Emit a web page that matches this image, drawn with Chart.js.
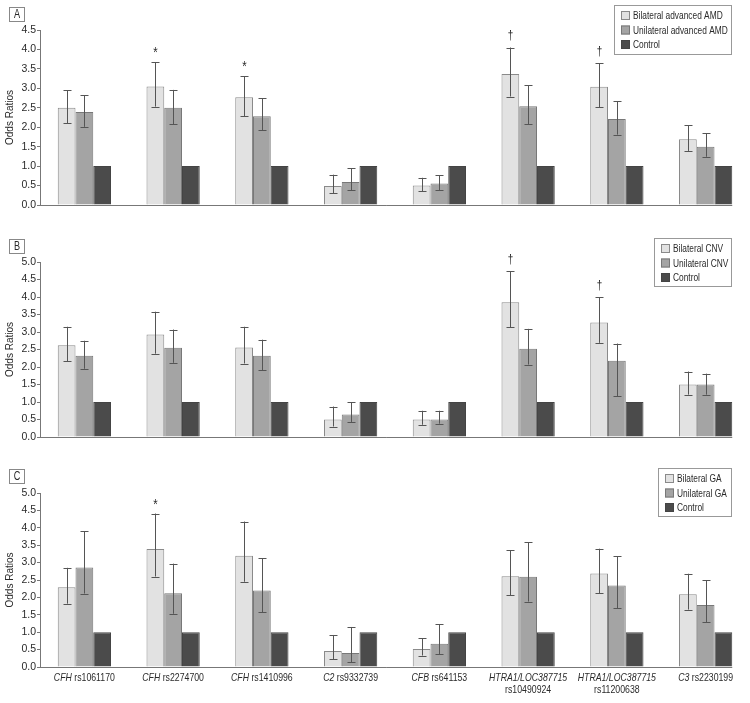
<!DOCTYPE html>
<html>
<head>
<meta charset="utf-8">
<script src="https://cdn.jsdelivr.net/npm/chart.js@4/dist/chart.umd.min.js"></script>
<style>
  body { margin: 0; background: #fff; }
  .panel { position: absolute; left: 0; width: 750px; }
</style>
</head>
<body>
<div class="panel" style="top:0;height:225px"><canvas id="chartA" width="750" height="225"></canvas></div>
<div class="panel" style="top:225px;height:225px"><canvas id="chartB" width="750" height="225"></canvas></div>
<div class="panel" style="top:450px;height:253px"><canvas id="chartC" width="750" height="253"></canvas></div>
<script>
// gene part (italic) and snp part of each category
const genes = ["CFH", "CFH", "CFH", "C2", "CFB", "HTRA1/LOC387715", "HTRA1/LOC387715", "C3"];
const snps = ["rs1061170", "rs2274700", "rs1410996", "rs9332739", "rs641153", "rs10490924", "rs11200638", "rs2230199"];
const control = [1, 1, 1, 1, 1, 1, 1, 1];

// panel A - advanced AMD
const bilatA = [2.5, 3.05, 2.77, 0.49, 0.5, 3.37, 3.04, 1.69];
const bilatA_lo = [2.1, 2.53, 2.28, 0.3, 0.35, 2.79, 2.52, 1.39];
const bilatA_hi = [2.95, 3.67, 3.31, 0.78, 0.7, 4.05, 3.65, 2.05];
const unilatA = [2.39, 2.5, 2.28, 0.59, 0.55, 2.54, 2.21, 1.5];
const unilatA_lo = [2.01, 2.08, 1.92, 0.38, 0.38, 2.08, 1.81, 1.24];
const unilatA_hi = [2.82, 2.96, 2.74, 0.94, 0.76, 3.08, 2.67, 1.84];
const marksA = ["", "*", "*", "", "", "\u2020", "\u2020", ""];

// panel B - CNV
const bilatB = [2.62, 2.93, 2.56, 0.5, 0.5, 3.85, 3.27, 1.5];
const bilatB_lo = [2.16, 2.38, 2.1, 0.3, 0.35, 3.14, 2.69, 1.21];
const bilatB_hi = [3.15, 3.58, 3.15, 0.87, 0.75, 4.73, 3.99, 1.87];
const unilatB = [2.32, 2.55, 2.32, 0.64, 0.5, 2.52, 2.18, 1.5];
const unilatB_lo = [1.95, 2.12, 1.91, 0.43, 0.38, 2.07, 1.17, 1.21];
const unilatB_hi = [2.75, 3.07, 2.78, 1.0, 0.75, 3.09, 2.67, 1.81];
const marksB = ["", "", "", "", "", "\u2020", "\u2020", ""];

// panel C - GA
const bilatC = [2.29, 3.39, 3.2, 0.46, 0.52, 2.61, 2.69, 2.09];
const bilatC_lo = [1.82, 2.6, 2.45, 0.23, 0.33, 2.06, 2.12, 1.65];
const bilatC_hi = [2.85, 4.41, 4.18, 0.92, 0.82, 3.35, 3.4, 2.68];
const unilatC = [2.86, 2.12, 2.2, 0.4, 0.67, 2.59, 2.34, 1.78];
const unilatC_lo = [2.11, 1.53, 1.57, 0.14, 0.37, 1.88, 1.69, 1.28];
const unilatC_hi = [3.9, 2.97, 3.12, 1.15, 1.23, 3.58, 3.18, 2.49];
const marksC = ["", "*", "", "", "", "", "", ""];

const FONT = "'Liberation Sans', Arial, sans-serif";
const INK = "#2a2a2a";
const SQUEEZE = 0.76; // the original uses a condensed face

// draws text squeezed horizontally around its anchor
const narrowText = (ctx, txt, x, y, font, align) => {
  ctx.save();
  ctx.font = font;
  ctx.textAlign = align || "left";
  ctx.textBaseline = "middle";
  ctx.translate(x, y);
  ctx.scale(SQUEEZE, 1);
  ctx.fillText(txt, 0, 0);
  ctx.restore();
};

const extras = {
  id: "extras",
  afterDatasetsDraw(chart, args, opts) {
    const ctx = chart.ctx;
    const y = chart.scales.y;
    const area = chart.chartArea;
    ctx.save();
    // error bars
    chart.data.datasets.forEach((ds, i) => {
      if (!ds.lo) return;
      chart.getDatasetMeta(i).data.forEach((bar, j) => {
        const yh = y.getPixelForValue(ds.hi[j]);
        const yl = y.getPixelForValue(ds.lo[j]);
        const x = Math.round(bar.x) + 0.5;
        ctx.strokeStyle = "#555";
        ctx.lineWidth = 1;
        ctx.beginPath();
        ctx.moveTo(x, yh); ctx.lineTo(x, yl);
        ctx.moveTo(x - 4, Math.round(yh) + 0.5); ctx.lineTo(x + 4, Math.round(yh) + 0.5);
        ctx.moveTo(x - 4, Math.round(yl) + 0.5); ctx.lineTo(x + 4, Math.round(yl) + 0.5);
        ctx.stroke();
        if (ds.marks && ds.marks[j]) {
          ctx.fillStyle = INK;
          const big = ds.marks[j] === "*" ? "15px " : "13px ";
          narrowText(ctx, ds.marks[j], x, yh - (ds.marks[j] === "*" ? 9 : 12), big + FONT, "center");
        }
      });
    });
    // baseline up to right edge of last bar
    const meta = chart.getDatasetMeta(chart.data.datasets.length - 1);
    const last = meta.data[meta.data.length - 1];
    ctx.strokeStyle = "#777";
    ctx.beginPath();
    ctx.moveTo(area.left, Math.round(area.bottom) + 0.5);
    ctx.lineTo(last.x + last.width / 2, Math.round(area.bottom) + 0.5);
    ctx.stroke();

    // panel letter
    ctx.strokeStyle = "#888";
    ctx.strokeRect(opts.box[0] + 0.5, opts.box[1] + 0.5, 15, 14);
    ctx.fillStyle = INK;
    narrowText(ctx, opts.letter, opts.box[0] + 8, opts.box[1] + 8, "12px " + FONT, "center");

    // legend
    const lg = opts.legend;
    ctx.strokeStyle = "#999";
    ctx.strokeRect(lg.x + 0.5, lg.y + 0.5, lg.w, lg.h);
    chart.data.datasets.forEach((ds, i) => {
      const cy = lg.y + 10 + i * 14.5;
      ctx.fillStyle = ds.backgroundColor;
      ctx.fillRect(lg.x + 7, cy - 4, 9, 9);
      ctx.strokeStyle = ds.borderColor;
      ctx.strokeRect(lg.x + 7.5, cy - 3.5, 8, 8);
      ctx.fillStyle = INK;
      narrowText(ctx, ds.label, lg.x + 19, cy + 1, "11px " + FONT, "left");
    });

    // category labels (only on bottom panel)
    if (opts.xlabels) {
      const xs = chart.scales.x;
      const fi = "italic 11.5px " + FONT;
      const fn = "11.5px " + FONT;
      ctx.fillStyle = INK;
      genes.forEach((g, k) => {
        const cx = xs.getPixelForValue(k);
        if (g.length > 5) {
          narrowText(ctx, g, cx, area.bottom + 11, fi, "center");
          narrowText(ctx, snps[k], cx, area.bottom + 23, fn, "center");
        } else {
          ctx.font = fi;
          const gw = ctx.measureText(g + " ").width * SQUEEZE;
          ctx.font = fn;
          const sw = ctx.measureText(snps[k]).width * SQUEEZE;
          const x0 = cx - (gw + sw) / 2;
          narrowText(ctx, g + " ", x0, area.bottom + 11, fi, "left");
          narrowText(ctx, snps[k], x0 + gw, area.bottom + 11, fn, "left");
        }
      });
    }
    ctx.restore();
  },
};

const makePanel = (id, labels, bil, bilLo, bilHi, uni, uniLo, uniHi, marks, yMax, pad, opts) => {
  const data = {
    labels: snps,
    datasets: [
      {
        label: labels[0],
        data: bil, lo: bilLo, hi: bilHi, marks: marks,
        backgroundColor: "#e2e2e2",
        borderColor: "#8a8a8a",
        borderWidth: 1,
      },
      {
        label: labels[1],
        data: uni, lo: uniLo, hi: uniHi,
        backgroundColor: "#a4a4a4",
        borderColor: "#787878",
        borderWidth: 1,
      },
      {
        label: labels[2],
        data: control,
        backgroundColor: "#4b4b4b",
        borderColor: "#444",
        borderWidth: 1,
      },
    ],
  };

  const config = {
    type: "bar",
    data: data,
    options: {
      responsive: false,
      animation: false,
      events: [],
      layout: { padding: { top: pad[0], bottom: pad[1], left: 0, right: 0 } },
      datasets: { bar: { barPercentage: 1.0, categoryPercentage: 0.6 } },
      scales: {
        x: { display: false },
        y: {
          min: 0,
          max: yMax,
          afterFit: (s) => { s.width = 40; },
          ticks: {
            stepSize: 0.5,
            padding: 1,
            color: INK,
            font: { family: FONT, size: 10.5 },
            callback: (v) => v.toFixed(1),
          },
          grid: { drawOnChartArea: false, tickLength: 3, color: "#777" },
          border: { color: "#777" },
          title: {
            display: true,
            text: "Odds Ratios",
            color: INK,
            font: { family: FONT, size: 10 },
            padding: { top: 4, bottom: 0 },
          },
        },
      },
      plugins: {
        legend: { display: false },
        tooltip: { enabled: false },
        extras: opts,
      },
    },
    plugins: [extras],
  };

  new Chart(document.getElementById(id), config);
};

makePanel("chartA", ["Bilateral advanced AMD", "Unilateral advanced AMD", "Control"],
  bilatA, bilatA_lo, bilatA_hi, unilatA, unilatA_lo, unilatA_hi, marksA, 4.5, [30, 20],
  { letter: "A", box: [9, 7], legend: { x: 614, y: 5, w: 117, h: 49 } });

makePanel("chartB", ["Bilateral CNV", "Unilateral CNV", "Control"],
  bilatB, bilatB_lo, bilatB_hi, unilatB, unilatB_lo, unilatB_hi, marksB, 5.0, [37, 13],
  { letter: "B", box: [9, 14], legend: { x: 654, y: 13, w: 77, h: 48 } });

makePanel("chartC", ["Bilateral GA", "Unilateral GA", "Control"],
  bilatC, bilatC_lo, bilatC_hi, unilatC, unilatC_lo, unilatC_hi, marksC, 5.0, [43, 36],
  { letter: "C", box: [9, 19], legend: { x: 658, y: 18, w: 73, h: 48 }, xlabels: true });
</script>
</body>
</html>
